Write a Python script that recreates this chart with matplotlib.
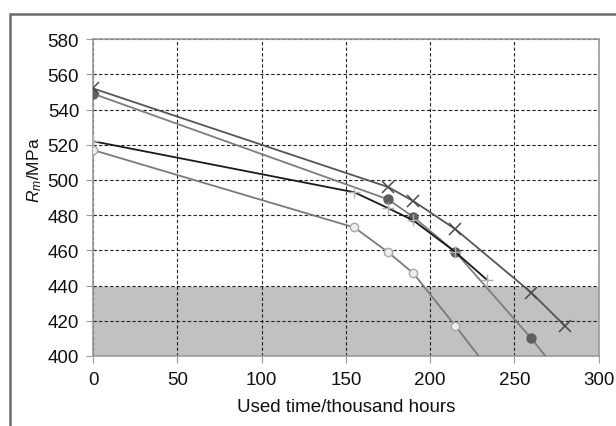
"""
Tensile strength Rm against used time, four specimens.
"""
import numpy as np
import matplotlib.pyplot as plt
from matplotlib.patches import Rectangle

plt.rcParams['font.family'] = ['Liberation Sans', 'DejaVu Sans']
plt.rcParams['mathtext.fontset'] = 'custom'
plt.rcParams['mathtext.rm'] = 'Liberation Sans'
plt.rcParams['mathtext.it'] = 'Liberation Sans:italic'

# series (time in thousand hours, Rm in MPa)
star_t = [0, 175, 190, 215, 260, 280]
star_rm = [552, 496, 488, 472, 436, 417]

dot_t = [0, 175, 190, 215, 260, 280]
dot_rm = [549, 489, 479, 459, 410, 386]

black_t = [0, 155, 175, 190, 215, 234]
black_rm = [522, 493, 484, 477, 459, 443]

open_t = [0, 155, 175, 190, 215, 240]
open_rm = [517, 473, 459, 447, 417, 386]

limit_low, limit_high = 400, 439

x_ticks = [0, 50, 100, 150, 200, 250, 300]
y_ticks = [400, 420, 440, 460, 480, 500, 520, 540, 560, 580]


def main():
    fig = plt.figure(figsize=(6.16, 4.27), dpi=100)
    ax = fig.add_axes([0.151, 0.164, 0.821, 0.742])

    ax.axhspan(limit_low, limit_high, color='#c0c1c3', lw=0, zorder=1)

    ax.plot(open_t, open_rm, color='#7a7a7a', lw=1.3, marker='o', ms=6,
            mfc='#eeeeee', mec='#a8a8a8', mew=1, zorder=3)
    ax.plot(black_t, black_rm, color='#1a1a1a', lw=1.3, marker='+', ms=9,
            mec='#b0b0b0', mew=1, zorder=4)
    ax.plot(dot_t, dot_rm, color='#7d7d7d', lw=1.3, marker='o', ms=6.5,
            mfc='#5f5f5f', mec='#5f5f5f', zorder=3)
    ax.plot(star_t, star_rm, color='#555555', lw=1.3, marker='x', ms=8,
            mec='#4a4a4a', mew=1.1, zorder=3)

    ax.set_xlim(0, 300)
    ax.set_ylim(400, 580)
    ax.set_xticks(x_ticks)
    ax.set_yticks(y_ticks)
    ax.grid(True, ls=(0, (3, 2)), color='#222222', lw=0.8)

    for s in ax.spines.values():
        s.set_color('#9a9a9a')
        s.set_linewidth(1.2)
    ax.tick_params(direction='out', length=5, color='#9a9a9a',
                   labelsize=13.5, labelcolor='#111111')
    ax.tick_params(axis='x', pad=6)
    ax.tick_params(axis='y', pad=5)

    ax.set_xlabel("Used time/thousand hours", fontsize=13.5, color='#111111', labelpad=7)
    ax.set_ylabel(r"$\mathit{R}_{\mathit{m}}$/MPa", fontsize=12.5, color='#111111')
    ax.yaxis.set_label_coords(-0.096, 0.59)

    # outer frame of the original figure, cut off at right and bottom
    frame = Rectangle((10 / 616, -0.2), 1.0, 1 - 15 / 427 + 0.2,
                      transform=fig.transFigure, fill=False,
                      edgecolor='#6a6a6a', lw=1.8)
    fig.patches.append(frame)

    fig.savefig('out.png', dpi=100)


if __name__ == "__main__":
    main()
